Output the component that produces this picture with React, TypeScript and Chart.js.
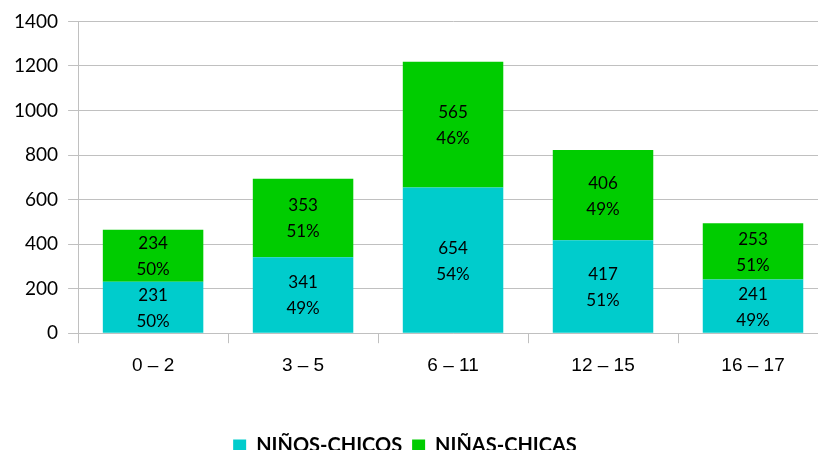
import React, { useEffect, useRef } from 'react';
import { Chart, registerables } from 'chart.js';

Chart.register(...registerables);

const categories = ['0 – 2', '3 – 5', '6 – 11', '12 – 15', '16 – 17'];
const ninosValues = [231, 341, 654, 417, 241];
const ninasValues = [234, 353, 565, 406, 253];
const seriesNames = ['NIÑOS-CHICOS', 'NIÑAS-CHICAS'];
const seriesColors = ['#00CCCC', '#00CC00'];
const yMin = 0;
const yMax = 1400;
const yStep = 200;

const barLabelPlugin = {
  id: 'barLabels',
  afterDatasetsDraw(chart: any) {
    const ctx = chart.ctx;
    const datasets = chart.data.datasets;
    const totals = categories.map((_, i) =>
      datasets.reduce((s: number, d: any) => s + (d.data[i] as number), 0)
    );
    ctx.save();
    ctx.font = '17px Lato';
    ctx.fillStyle = '#000000';
    ctx.textAlign = 'center';
    ctx.textBaseline = 'middle';
    datasets.forEach((ds: any, di: number) => {
      const meta = chart.getDatasetMeta(di);
      meta.data.forEach((el: any, i: number) => {
        const v = ds.data[i] as number;
        const pct = Math.round((v / totals[i]) * 100);
        const cy = (el.y + el.base) / 2 + 1;
        ctx.fillText(String(v), el.x, cy - 13);
        ctx.fillText(pct + '%', el.x, cy + 13);
      });
    });
    ctx.restore();
  },
};

const legendShiftPlugin = {
  id: 'legendShift',
  afterLayout(chart: any) {
    if (chart.legend) {
      chart.legend.left -= 11;
      chart.legend.right -= 11;
    }
  },
};

export default function App() {
  const ref = useRef<HTMLCanvasElement | null>(null);

  useEffect(() => {
    if (!ref.current) return;
    const gridColor = '#c0c0c0';
    const chart = new Chart(ref.current, {
      type: 'bar',
      data: {
        labels: categories,
        datasets: [
          {
            label: seriesNames[0],
            data: ninosValues,
            backgroundColor: seriesColors[0],
            borderWidth: 0,
            categoryPercentage: 1,
            barPercentage: 0.67,
          },
          {
            label: seriesNames[1],
            data: ninasValues,
            backgroundColor: seriesColors[1],
            borderWidth: 0,
            categoryPercentage: 1,
            barPercentage: 0.67,
          },
        ],
      },
      options: {
        responsive: false,
        animation: false,
        devicePixelRatio: 1,
        layout: { padding: { top: 19, left: 4, right: 6, bottom: 0 } },
        scales: {
          x: {
            stacked: true,
            grid: {
              display: true,
              drawOnChartArea: false,
              drawTicks: true,
              tickLength: 10,
              color: gridColor,
              offset: true,
            },
            border: { display: true, color: gridColor, width: 1 },
            ticks: {
              color: '#000000',
              padding: 11,
              font: { family: '"Liberation Sans", Arial, sans-serif', size: 19 },
              maxRotation: 0,
            },
          },
          y: {
            stacked: true,
            min: yMin,
            max: yMax,
            grid: {
              color: gridColor,
              drawTicks: true,
              tickLength: 10,
            },
            border: { display: true, color: gridColor, width: 1 },
            ticks: {
              stepSize: yStep,
              color: '#000000',
              padding: 10,
              font: { family: 'Lato, sans-serif', size: 19 },
              callback: (v: any) => String(v),
            },
          },
        },
        plugins: {
          legend: {
            position: 'bottom',
            align: 'center',
            title: {
              display: true,
              text: '',
              font: { size: 10 },
              padding: { top: 26, bottom: 0 },
            },
            labels: {
              boxWidth: 13,
              boxHeight: 13,
              padding: 10,
              color: '#000000',
              font: { family: 'Lato, sans-serif', size: 20, weight: 'bold' },
            },
          },
          tooltip: { enabled: false },
        },
      },
      plugins: [barLabelPlugin, legendShiftPlugin],
    } as any);
    return () => chart.destroy();
  }, []);

  return (
    <div
      style={{
        position: 'absolute',
        left: 0,
        top: 0,
        width: 818,
        height: 450,
        overflow: 'hidden',
        background: '#ffffff',
      }}
    >
      <canvas ref={ref} width={834} height={466} style={{ display: 'block' }} />
    </div>
  );
}
